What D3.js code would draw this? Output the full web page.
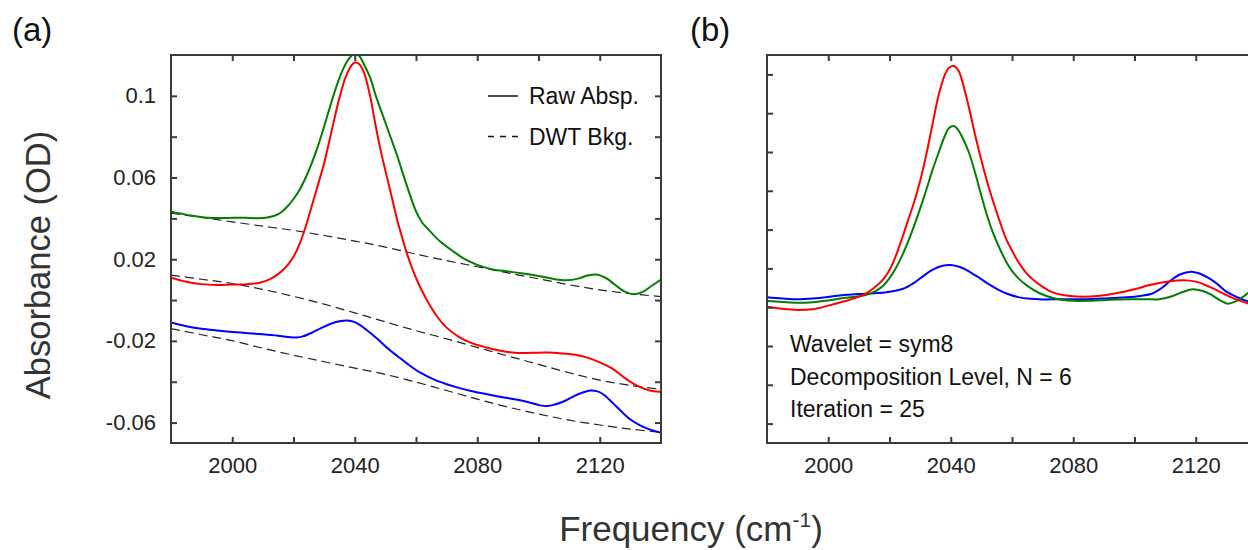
<!DOCTYPE html>
<html>
<head>
<meta charset="utf-8">
<script src="https://cdn.jsdelivr.net/npm/d3@7"></script>
<style>
  body { margin: 0; background: #fff; }
  svg { display: block; font-family: "Liberation Sans", Arial, Helvetica, sans-serif; }
</style>
</head>
<body>
<svg id="chart" width="1248" height="550"></svg>
<script>
// ---- Frequency axis (cm^-1) ----
const freqDomain = [1980, 2140];
const freqTicks = [2000, 2020, 2040, 2060, 2080, 2100, 2120];
const freqLabels = [2000, 2040, 2080, 2120];

// ---- Panel (a): raw absorbance (OD) and DWT backgrounds, [frequency, absorbance] ----
const absDomainA = [-0.07, 0.12];
const absTicksA = [-0.06, -0.04, -0.02, 0, 0.02, 0.04, 0.06, 0.08, 0.1];
const absLabelsA = { "-0.06": "-0.06", "-0.02": "-0.02", "0.02": "0.02", "0.06": "0.06", "0.1": "0.1" };

const rawGreen = [
  [1980, 0.0432], [1986, 0.0415], [1992, 0.0403], [1998, 0.0402], [2004, 0.0403],
  [2008, 0.0401], [2011, 0.0403], [2014, 0.0414], [2016, 0.0430], [2018, 0.0458],
  [2020, 0.0495], [2022, 0.0540], [2024, 0.0600], [2026, 0.0672], [2028, 0.0755],
  [2030, 0.0850], [2032, 0.0950], [2034, 0.1045], [2036, 0.1125], [2038, 0.1180],
  [2040, 0.1208], [2041.5, 0.1195], [2043, 0.1155], [2045, 0.1090], [2047, 0.0995],
  [2049.5, 0.0890], [2052, 0.0785], [2054, 0.0700], [2057, 0.0560], [2060, 0.0435],
  [2062, 0.0380], [2065, 0.0330], [2068, 0.0285], [2072, 0.0240], [2076, 0.0200],
  [2080, 0.0172], [2085, 0.0150], [2090, 0.0140], [2095, 0.0130], [2100, 0.0118],
  [2105, 0.0103], [2109, 0.0097], [2113, 0.0105], [2116, 0.0120], [2119, 0.0125],
  [2122, 0.0108], [2125, 0.0075], [2128, 0.0042], [2131, 0.0028], [2134, 0.0040],
  [2137, 0.0070], [2140, 0.0100]
];
const rawRed = [
  [1980, 0.0110], [1985, 0.0090], [1990, 0.0078], [1995, 0.0074], [2000, 0.0076],
  [2005, 0.0078], [2009, 0.0085], [2012, 0.0100], [2015, 0.0127], [2018, 0.0170],
  [2020, 0.0212], [2022, 0.0275], [2024, 0.0360], [2026, 0.0462], [2028, 0.0565],
  [2030, 0.0670], [2033, 0.0865], [2035, 0.0990], [2037, 0.1090], [2039, 0.1150],
  [2040, 0.1163], [2041.5, 0.1155], [2043, 0.1115], [2045, 0.1000], [2046.5, 0.0880],
  [2048, 0.0765], [2049.5, 0.0665], [2051, 0.0572], [2052.5, 0.0478], [2054, 0.0385],
  [2055.5, 0.0305], [2057, 0.0230], [2059, 0.0145], [2061, 0.0075], [2063, 0.0015],
  [2065, -0.0038], [2067, -0.0083], [2070, -0.0135], [2074, -0.0180], [2078, -0.0210],
  [2083, -0.0232], [2088, -0.0250], [2093, -0.0259], [2098, -0.0258], [2103, -0.0257],
  [2108, -0.0262], [2112, -0.0268], [2116, -0.0282], [2120, -0.0305], [2124, -0.0335],
  [2128, -0.0380], [2132, -0.0418], [2136, -0.0442], [2140, -0.0450]
];
const rawBlue = [
  [1980, -0.0110], [1985, -0.0128], [1990, -0.0141], [1995, -0.0149], [2000, -0.0156],
  [2005, -0.0162], [2010, -0.0168], [2015, -0.0175], [2019, -0.0182], [2021, -0.0183],
  [2023, -0.0178], [2026, -0.0160], [2029, -0.0137], [2032, -0.0117], [2035, -0.0104],
  [2037.5, -0.0100], [2040, -0.0108], [2042, -0.0125], [2044, -0.0148], [2046, -0.0172],
  [2048, -0.0198], [2051, -0.0240], [2054, -0.0275], [2057, -0.0310], [2061, -0.0352],
  [2066, -0.0390], [2070, -0.0412], [2074, -0.0430], [2078, -0.0445], [2082, -0.0458],
  [2086, -0.0470], [2090, -0.0480], [2094, -0.0491], [2098, -0.0505], [2101, -0.0517],
  [2103, -0.0519], [2105, -0.0513], [2108, -0.0498], [2111, -0.0475], [2114, -0.0455],
  [2117, -0.0443], [2119, -0.0446], [2121, -0.0460], [2124, -0.0500], [2127, -0.0545],
  [2130, -0.0585], [2133, -0.0612], [2136, -0.0632], [2140, -0.0650]
];
const bkgGreen = [
  [1980, 0.0425], [1990, 0.0405], [2000, 0.0383], [2010, 0.0362], [2020, 0.0341],
  [2030, 0.0316], [2040, 0.0289], [2050, 0.0259], [2060, 0.0225], [2070, 0.0193],
  [2080, 0.0163], [2090, 0.0133], [2100, 0.0104], [2110, 0.0075], [2120, 0.0050],
  [2130, 0.0031], [2140, 0.0017]
];
const bkgRed = [
  [1980, 0.0122], [1990, 0.0102], [2000, 0.0081], [2010, 0.0052], [2020, 0.0018],
  [2030, -0.0020], [2040, -0.0063], [2050, -0.0107], [2060, -0.0150], [2070, -0.0190],
  [2080, -0.0232], [2090, -0.0274], [2100, -0.0315], [2110, -0.0356], [2120, -0.0392],
  [2130, -0.0418], [2140, -0.0437]
];
const bkgBlue = [
  [1980, -0.0140], [1990, -0.0170], [2000, -0.0199], [2010, -0.0236], [2020, -0.0270],
  [2030, -0.0302], [2040, -0.0333], [2050, -0.0364], [2060, -0.0402], [2070, -0.0443],
  [2080, -0.0485], [2090, -0.0524], [2100, -0.0558], [2110, -0.0588], [2120, -0.0612],
  [2130, -0.0632], [2140, -0.0648]
];

// ---- Panel (b): background-corrected absorbance, [frequency, absorbance] ----
const absDomainB = [-0.07, 0.13];
const absTicksB = [-0.06, -0.04, -0.02, 0, 0.02, 0.04, 0.06, 0.08, 0.1, 0.12];

const corrRed = [
  [1980, 0.0003], [1985, -0.0008], [1990, -0.0014], [1995, -0.0010], [2000, 0.0008],
  [2005, 0.0029], [2009, 0.0048], [2012, 0.0068], [2015, 0.0100], [2018, 0.0145],
  [2020, 0.0192], [2022, 0.0262], [2024, 0.0350], [2026, 0.0445], [2028, 0.0540],
  [2030, 0.0650], [2032, 0.0785], [2034, 0.0940], [2036, 0.1090], [2038, 0.1195],
  [2039.5, 0.1236], [2041, 0.1243], [2042.5, 0.1220], [2044, 0.1150], [2046, 0.1025],
  [2048, 0.0885], [2050, 0.0757], [2052, 0.0640], [2054, 0.0537], [2056, 0.0442],
  [2058, 0.0355], [2060, 0.0292], [2062, 0.0235], [2064.5, 0.0180], [2067, 0.0140],
  [2070, 0.0105], [2073, 0.0078], [2077, 0.0062], [2083, 0.0054], [2088, 0.0058],
  [2094, 0.0072], [2100, 0.0093], [2105, 0.0114], [2110, 0.0130], [2114, 0.0138],
  [2118, 0.0137], [2121, 0.0128], [2124, 0.0108], [2127, 0.0087], [2130, 0.0062],
  [2134, 0.0035], [2137, 0.0020], [2140, 0.0010]
];
const corrGreen = [
  [1980, 0.0032], [1985, 0.0027], [1990, 0.0023], [1995, 0.0026], [2000, 0.0035],
  [2005, 0.0047], [2010, 0.0056], [2013, 0.0066], [2016, 0.0088], [2018, 0.0112],
  [2020, 0.0150], [2022, 0.0200], [2024, 0.0262], [2026, 0.0335], [2028, 0.0418],
  [2030, 0.0508], [2032, 0.0604], [2034, 0.0705], [2036, 0.0795], [2038, 0.0880],
  [2039.5, 0.0925], [2041, 0.0934], [2042.5, 0.0912], [2044, 0.0868], [2046, 0.0795],
  [2048, 0.0690], [2050, 0.0575], [2052, 0.0465], [2054, 0.0375], [2056, 0.0302],
  [2058, 0.0237], [2060, 0.0187], [2062, 0.0150], [2065, 0.0110], [2069, 0.0072],
  [2074, 0.0045], [2080, 0.0033], [2086, 0.0033], [2092, 0.0038], [2098, 0.0041],
  [2104, 0.0041], [2108, 0.0041], [2112, 0.0055], [2116, 0.0080], [2119, 0.0093],
  [2122, 0.0085], [2125, 0.0065], [2128, 0.0035], [2130.5, 0.0018], [2133, 0.0030],
  [2136, 0.0060], [2138, 0.0085], [2140, 0.0110]
];
const corrBlue = [
  [1980, 0.0051], [1985, 0.0045], [1990, 0.0041], [1995, 0.0045], [2000, 0.0053],
  [2005, 0.0063], [2010, 0.0068], [2015, 0.0072], [2019, 0.0077], [2022, 0.0085],
  [2025, 0.0098], [2028, 0.0125], [2031, 0.0160], [2034, 0.0192], [2037, 0.0212],
  [2040, 0.0218], [2043, 0.0207], [2046, 0.0184], [2049, 0.0155], [2052, 0.0123],
  [2055, 0.0095], [2058, 0.0072], [2062, 0.0052], [2066, 0.0043], [2070, 0.0040],
  [2076, 0.0041], [2083, 0.0041], [2090, 0.0045], [2096, 0.0050], [2102, 0.0058],
  [2106, 0.0072], [2109, 0.0100], [2112, 0.0140], [2115, 0.0170], [2118.5, 0.0183],
  [2121, 0.0175], [2124, 0.0152], [2127, 0.0120], [2130, 0.0080], [2133, 0.0055],
  [2137, 0.0030], [2140, 0.0018]
];

// ---- Text ----
const legendItems = ["Raw Absp.", "DWT Bkg."];
const paramLines = ["Wavelet = sym8", "Decomposition Level, N = 6", "Iteration = 25"];

// ---- Styles ----
const COLORS = { green: "#008000", red: "#ff0000", blue: "#0000ff" };
const AXIS_COLOR = "#3a3a3a";
const TEXT_COLOR = "#222";

const svg = d3.select("#chart");
svg.append("rect").attr("width", 1248).attr("height", 550).attr("fill", "#fff");

const PLOT_TOP = 55, PLOT_BOTTOM = 443, PLOT_W = 490;

function drawPanel(cfg) {
  const x = d3.scaleLinear().domain(freqDomain).range([cfg.left, cfg.left + PLOT_W]);
  const y = d3.scaleLinear().domain(cfg.yDomain).range([PLOT_BOTTOM, PLOT_TOP]);
  const g = svg.append("g");

  g.append("clipPath").attr("id", cfg.id + "-clip")
    .append("rect")
    .attr("x", cfg.left).attr("y", PLOT_TOP)
    .attr("width", PLOT_W).attr("height", PLOT_BOTTOM - PLOT_TOP);

  const plot = g.append("g").attr("clip-path", `url(#${cfg.id}-clip)`);
  const line = d3.line()
    .x(d => x(d[0]))
    .y(d => y(d[1]))
    .curve(d3.curveCatmullRom.alpha(0.5));

  (cfg.dashed || []).forEach(s => {
    plot.append("path").datum(s)
      .attr("fill", "none")
      .attr("stroke", "#222")
      .attr("stroke-width", 1.2)
      .attr("stroke-dasharray", "9,5")
      .attr("d", line);
  });
  cfg.solid.forEach(s => {
    plot.append("path").datum(s.data)
      .attr("fill", "none")
      .attr("stroke", s.color)
      .attr("stroke-width", 2)
      .attr("stroke-linejoin", "round")
      .attr("d", line);
  });

  const fmtX = d => freqLabels.includes(d) ? String(d) : "";
  const styleAxis = sel => {
    sel.select(".domain").remove();
    sel.selectAll(".tick line").attr("stroke", AXIS_COLOR).attr("stroke-width", 2);
    sel.selectAll(".tick text")
      .attr("fill", TEXT_COLOR)
      .style("font-size", "22px")
      .style("font-family", '"Liberation Sans", Arial, sans-serif');
  };

  g.append("g").attr("transform", `translate(0,${PLOT_BOTTOM})`)
    .call(d3.axisBottom(x).tickValues(freqTicks).tickSizeInner(-6).tickSizeOuter(0)
      .tickPadding(14).tickFormat(fmtX))
    .call(styleAxis);
  g.append("g").attr("transform", `translate(0,${PLOT_TOP})`)
    .call(d3.axisTop(x).tickValues(freqTicks).tickSizeInner(-6).tickSizeOuter(0)
      .tickFormat(() => ""))
    .call(styleAxis);
  g.append("g").attr("transform", `translate(${cfg.left},0)`)
    .call(d3.axisLeft(y).tickValues(cfg.yTicks).tickSizeInner(-6).tickSizeOuter(0)
      .tickPadding(15).tickFormat(cfg.yFmt))
    .call(styleAxis);
  g.append("g").attr("transform", `translate(${cfg.left + PLOT_W},0)`)
    .call(d3.axisRight(y).tickValues(cfg.yTicks).tickSizeInner(-6).tickSizeOuter(0)
      .tickFormat(() => ""))
    .call(styleAxis);

  g.append("rect")
    .attr("x", cfg.left).attr("y", PLOT_TOP)
    .attr("width", PLOT_W).attr("height", PLOT_BOTTOM - PLOT_TOP)
    .attr("fill", "none").attr("stroke", AXIS_COLOR).attr("stroke-width", 2);

  return { x, y, g };
}

// Panel (a): raw spectra with DWT-estimated backgrounds
drawPanel({
  id: "pa", left: 171,
  yDomain: absDomainA, yTicks: absTicksA,
  yFmt: d => absLabelsA[String(+d.toFixed(2))] || "",
  dashed: [bkgGreen, bkgRed, bkgBlue],
  solid: [
    { data: rawGreen, color: COLORS.green },
    { data: rawRed, color: COLORS.red },
    { data: rawBlue, color: COLORS.blue }
  ]
});

// Panel (b): background-subtracted spectra
drawPanel({
  id: "pb", left: 767,
  yDomain: absDomainB, yTicks: absTicksB,
  yFmt: () => "",
  solid: [
    { data: corrBlue, color: COLORS.blue },
    { data: corrGreen, color: COLORS.green },
    { data: corrRed, color: COLORS.red }
  ]
});

// Legend in panel (a)
const legend = svg.append("g").attr("font-size", 23).attr("fill", "#111");
legendItems.forEach((label, i) => {
  const ly = 96 + i * 40.5;
  legend.append("line")
    .attr("x1", 488).attr("x2", 518).attr("y1", ly).attr("y2", ly)
    .attr("stroke", "#111").attr("stroke-width", 1.5)
    .attr("stroke-dasharray", i === 0 ? null : "6,6");
  legend.append("text").attr("x", 529).attr("y", ly + 8).text(label);
});

// Parameter notes in panel (b)
const notes = svg.append("g").attr("font-size", 23).attr("fill", "#111");
paramLines.forEach((t, i) => {
  notes.append("text").attr("x", 790).attr("y", 352 + i * 32.5).text(t);
});

// Panel tags
svg.append("text").attr("x", 12).attr("y", 41).attr("font-size", 33).attr("fill", "#111").text("(a)");
svg.append("text").attr("x", 690).attr("y", 41).attr("font-size", 33).attr("fill", "#111").text("(b)");

// Axis titles
svg.append("text")
  .attr("transform", "translate(50,265) rotate(-90)")
  .attr("text-anchor", "middle")
  .attr("font-size", 34.5).attr("fill", "#333")
  .text("Absorbance (OD)");

const xt = svg.append("text")
  .attr("x", 691).attr("y", 541)
  .attr("text-anchor", "middle")
  .attr("font-size", 35).attr("fill", "#333");
xt.append("tspan").text("Frequency (cm");
xt.append("tspan").attr("font-size", 21).attr("dy", -14).text("-1");
xt.append("tspan").attr("dy", 14).text(")");
</script>
</body>
</html>
